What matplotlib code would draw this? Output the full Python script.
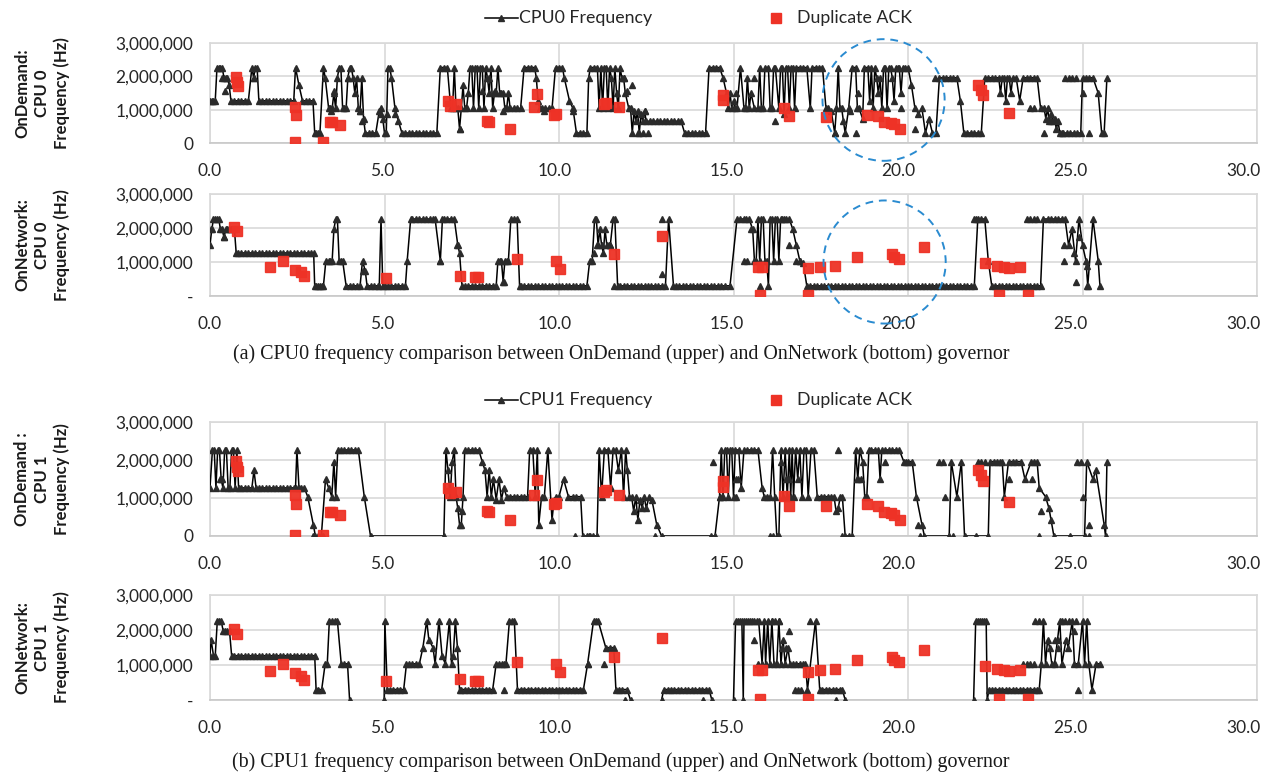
import numpy as np
import matplotlib.pyplot as plt
from matplotlib.lines import Line2D
from matplotlib.patches import Ellipse
from matplotlib.ticker import FuncFormatter
from matplotlib.transforms import ScaledTranslation

# frequency samples: (time in s, frequency in MHz); None breaks the line
cpu0_ondemand = [
    (0.00, 1267), (0.05, 1267), (0.10, 1267), (0.15, 1267), (0.20, 2265), (0.25, 2265),
    (0.30, 2265), (0.35, 2265), (0.40, 1958), (0.45, 1958), (0.50, 1958), (0.55, 1728),
    (0.60, 1267), (0.70, 1267), (0.80, 1267), (0.90, 1267), (1.00, 1267), (1.10, 1267),
    (1.20, 2265), (1.25, 1958), (1.30, 2265), (1.35, 2265), (1.40, 1267), (1.50, 1267),
    (1.60, 1267), (1.70, 1267), (1.80, 1267), (1.90, 1267), (2.00, 1267), (2.10, 1267),
    (2.20, 1267), (2.30, 1267), (2.40, 1267), (2.45, 2265), (2.55, 1728), (2.65, 1267),
    (2.75, 1267), (2.85, 1267), (2.95, 1267), (3.00, 300), (3.05, 300), (3.10, 300),
    (3.15, 300), (3.25, 2265), (3.30, 1958), (3.40, 1036), (3.45, 1036), (3.50, 1036),
    (3.55, 1497), (3.60, 1036), (3.65, 1958), (3.70, 2265), (3.75, 2265), (3.80, 1036),
    (3.85, 1036), (3.90, 1036), (3.95, 1958), (4.00, 2265), (4.05, 2265), (4.10, 1958),
    (4.15, 1497), (4.20, 1958), (4.25, 1036), (4.30, 960), (4.35, 1958), (4.40, 729),
    (4.45, 300), (4.55, 300), (4.65, 300), (4.75, 300), (4.85, 960), (4.90, 883),
    (4.95, 729), (5.00, 300), (5.05, 300), (5.10, 2265), (5.15, 2265), (5.20, 1958),
    (5.30, 1036), (5.40, 652), (5.50, 300), (5.60, 300), (5.70, 300), (5.80, 300),
    (5.90, 300), (6.00, 300), (6.10, 300), (6.20, 300), (6.30, 300), (6.40, 300),
    (6.50, 300), (6.60, 2265), (6.70, 2265), (6.80, 2265), (6.90, 1036), (6.95, 1036),
    (7.00, 2265), (7.05, 1036), (7.10, 1036), (7.15, 422), (7.20, 1036), (7.25, 1728),
    (7.30, 1036), (7.35, 1036), (7.40, 1497), (7.45, 2265), (7.50, 2265), (7.55, 1036),
    (7.60, 2265), (7.65, 2265), (7.70, 1036), (7.75, 2265), (7.80, 2265), (7.85, 1036),
    (7.90, 2265), (7.95, 1958), (8.00, 1497), (8.05, 2265), (8.10, 1036), (8.15, 1497),
    (8.20, 1497), (8.25, 2265), (8.30, 1497), (8.35, 1497), (8.40, 1497), (8.45, 1036),
    (8.50, 1036), (8.55, 1497), (8.60, 1036), (8.70, 1036), (8.80, 1036), (8.90, 1036),
    (9.00, 2265), (9.10, 2265), (9.20, 2265), (9.30, 2265), (9.35, 1958), (9.40, 1267),
    (9.45, 1036), (9.50, 1036), (9.60, 1036), (9.70, 1036), (9.80, 1036), (9.90, 2265),
    (10.00, 2265), (10.10, 2265), (10.15, 1958), (10.30, 1267), (10.40, 1036), (10.50, 300),
    (10.60, 300), (10.70, 300), (10.80, 300), (10.85, 1958), (10.90, 2265), (11.00, 2265),
    (11.10, 2265), (11.15, 1036), (11.20, 2265), (11.25, 1036), (11.30, 2265), (11.35, 2265),
    (11.40, 1036), (11.45, 2265), (11.50, 1958), (11.55, 1036), (11.60, 2265), (11.65, 1497),
    (11.70, 1036), (11.75, 2265), (11.80, 1958), (11.85, 1958), (11.90, 1497), (12.00, 1036),
    (12.05, 1036), (12.10, 300), (12.15, 960), (12.20, 652), (12.25, 960), (12.30, 300),
    (12.35, 883), (12.40, 652), (12.45, 960), (12.50, 652), (12.60, 652), (12.70, 652),
    (12.80, 652), (12.90, 652), (13.00, 652), (13.10, 652), (13.20, 652), (13.30, 652),
    (13.40, 652), (13.50, 652), (13.60, 300), (13.70, 300), (13.80, 300), (13.90, 300),
    (14.00, 300), (14.10, 300), (14.20, 300), (14.30, 2265), (14.40, 2265), (14.50, 2265),
    (14.60, 2265), (14.70, 1958), (14.80, 1497), (14.85, 1036), (14.90, 1497), (14.95, 1036),
    (15.00, 1267), (15.05, 1036), (15.10, 1036), (15.20, 2265), (15.30, 1036), (15.35, 1036),
    (15.40, 1958), (15.45, 1036), (15.50, 1497), (15.60, 1036), (15.70, 1036), (15.75, 2265),
    (15.80, 1036), (15.85, 1036), (15.90, 2265), (16.00, 2265), (16.05, 1036), (16.10, 1036),
    (16.15, 2265), (16.20, 2265), (16.30, 1036), (16.35, 2265), (16.40, 2265), (16.45, 883),
    (16.50, 2265), (16.55, 2265), (16.60, 1036), (16.65, 2265), (16.70, 2265), (16.75, 1036),
    (16.80, 2265), (16.90, 2265), (17.00, 2265), (17.10, 2265), (17.20, 1036), (17.25, 2265),
    (17.35, 2265), (17.45, 2265), (17.55, 2265), (17.65, 1036), (17.70, 1036), (17.80, 960),
    (17.90, 300), (17.95, 1036), (18.00, 2265), (18.05, 1036), (18.10, 1036), (18.15, 652),
    (18.20, 300), (18.30, 1036), (18.40, 2265), (18.50, 2265), (18.55, 1036), (18.60, 1036),
    (18.70, 729), (18.75, 2265), (18.85, 2265), (18.90, 1267), (18.95, 2265), (19.00, 1036),
    (19.05, 2265), (19.10, 1958), (19.15, 1497), (19.20, 1958), (19.25, 1036), (19.30, 2265),
    (19.35, 2265), (19.40, 1036), (19.45, 2265), (19.50, 2265), (19.55, 1958), (19.60, 1267),
    (19.65, 2265), (19.70, 2265), (19.75, 2265), (19.80, 1497), (19.85, 2265), (19.90, 2265),
    (20.00, 2265), (20.10, 1728), (20.20, 1036), (20.30, 883), (20.40, 1036), (20.50, 300),
    (20.60, 729), (20.70, 300), (20.80, 300), (20.90, 1958), (21.00, 1958), (21.10, 1958),
    (21.20, 1958), (21.30, 1958), (21.40, 1958), (21.50, 1267), (21.60, 300), (21.70, 300),
    (21.80, 300), (21.90, 300), (22.00, 300), (22.10, 300), (22.20, 1958), (22.30, 1958),
    (22.40, 1958), (22.50, 1958), (22.60, 1958), (22.65, 1497), (22.70, 1958), (22.75, 1958),
    (22.80, 1267), (22.85, 1958), (22.90, 1958), (22.95, 1497), (23.00, 1958), (23.10, 1958),
    (23.20, 1267), (23.30, 1958), (23.40, 1958), (23.50, 1958), (23.60, 1958), (23.70, 1958),
    (23.80, 1036), (23.90, 1036), (23.95, 729), (24.00, 1036), (24.05, 652), (24.10, 883),
    (24.15, 652), (24.20, 729), (24.25, 422), (24.30, 652), (24.35, 300), (24.45, 300),
    (24.55, 300), (24.65, 300), (24.75, 300), (24.85, 300), (24.95, 300), (25.00, 1958),
    (25.10, 1958), (25.20, 1958), (25.30, 1958), (25.45, 1497), (25.55, 300), (25.62, 300),
    (25.70, 1958),
]
cpu0_ondemand_extra = [
    (0.33, 1958), (0.44, 1574), (1.26, 1958), (3.46, 960), (3.54, 1574), (3.95, 1958),
    (4.30, 960), (4.36, 652), (4.89, 1036), (5.06, 883), (5.30, 883), (7.17, 422),
    (7.80, 1574), (8.00, 1958), (8.16, 1574), (8.40, 960), (9.57, 960), (10.40, 960),
    (11.85, 1958), (11.96, 1574), (12.10, 1728), (12.47, 960), (12.25, 300), (12.40, 300),
    (12.55, 300), (15.06, 1497), (15.60, 1958), (16.20, 652), (17.90, 300), (18.50, 300),
    (18.56, 1497), (18.35, 960), (19.80, 1036), (20.20, 422), (20.76, 1958), (23.50, 1036),
    (23.60, 1036), (23.90, 300), (24.10, 652), (24.40, 300), (24.50, 1958), (24.60, 1958),
    (24.70, 1958), (24.80, 1958), (25.00, 1497), (25.20, 300),
]

cpu0_onnetwork = [
    (0.00, 1497), (0.05, 1958), (0.10, 2265), (0.15, 2265), (0.20, 2265), (0.25, 2265),
    (0.30, 1958), (0.35, 1958), (0.40, 1728), (0.45, 1958), (0.50, 1958), (0.55, 1958),
    (0.60, 1958), (0.70, 1958), (0.75, 1267), (0.80, 1267), (0.90, 1267), (1.00, 1267),
    (1.10, 1267), (1.20, 1267), (1.30, 1267), (1.40, 1267), (1.50, 1267), (1.60, 1267),
    (1.70, 1267), (1.80, 1267), (1.90, 1267), (2.00, 1267), (2.10, 1267), (2.20, 1267),
    (2.30, 1267), (2.40, 1267), (2.50, 1267), (2.60, 1267), (2.70, 1267), (2.80, 1267),
    (2.90, 1267), (2.97, 1267), (3.00, 300), (3.05, 300), (3.10, 300), (3.15, 300),
    (3.20, 300), (3.25, 300), (3.32, 1036), (3.40, 1036), (3.45, 1036), (3.50, 1036),
    (3.55, 1958), (3.60, 2265), (3.65, 2265), (3.70, 1036), (3.75, 1036), (3.80, 1036),
    (3.90, 300), (4.00, 300), (4.10, 300), (4.20, 300), (4.30, 300), (4.37, 1036),
    (4.45, 729), (4.50, 300), (4.60, 300), (4.70, 300), (4.80, 300), (4.85, 300),
    (4.90, 2265), (4.95, 300), (5.00, 300), (5.10, 300), (5.20, 300), (5.30, 300),
    (5.40, 300), (5.50, 300), (5.60, 300), (5.65, 1036), (5.75, 2265), (5.80, 2265),
    (5.90, 2265), (6.00, 2265), (6.10, 2265), (6.20, 2265), (6.30, 2265), (6.40, 2265),
    (6.45, 2265), (6.60, 1036), (6.66, 2265), (6.70, 2265), (6.80, 2265), (6.90, 2265),
    (7.00, 2265), (7.10, 1497), (7.15, 1267), (7.22, 300), (7.30, 300), (7.40, 300),
    (7.50, 300), (7.60, 300), (7.70, 300), (7.80, 300), (7.90, 300), (8.00, 300),
    (8.10, 300), (8.20, 300), (8.25, 1036), (8.30, 1036), (8.35, 1036), (8.40, 422),
    (8.45, 1036), (8.50, 1036), (8.55, 1036), (8.62, 2265), (8.70, 2265), (8.80, 2265),
    (8.87, 300), (8.90, 300), (9.00, 300), (9.10, 300), (9.20, 300), (9.30, 300),
    (9.40, 300), (9.50, 300), (9.60, 300), (9.70, 300), (9.80, 300), (9.90, 300),
    (10.00, 300), (10.10, 300), (10.20, 300), (10.30, 300), (10.40, 300), (10.50, 300),
    (10.60, 300), (10.70, 300), (10.80, 300), (10.88, 1036), (10.95, 1036), (11.02, 2265),
    (11.07, 2265), (11.12, 1497), (11.17, 1958), (11.22, 1497), (11.27, 1267), (11.32, 1958),
    (11.37, 1497), (11.42, 1497), (11.47, 1497), (11.55, 2265), (11.60, 2265), (11.68, 300),
    (11.75, 300), (11.85, 300), (11.95, 300), (12.05, 300), (12.15, 300), (12.25, 300),
    (12.35, 300), (12.45, 300), (12.55, 300), (12.65, 300), (12.75, 300), (12.85, 300),
    (12.95, 300), (13.05, 300), (13.14, 2265), (13.28, 300), (13.35, 300), (13.45, 300),
    (13.55, 300), (13.65, 300), (13.75, 300), (13.85, 300), (13.95, 300), (14.05, 300),
    (14.15, 300), (14.25, 300), (14.35, 300), (14.45, 300), (14.55, 300), (14.65, 300),
    (14.75, 300), (14.90, 300), (15.10, 2265), (15.20, 2265), (15.30, 2265), (15.35, 2265),
    (15.45, 2265), (15.55, 1958), (15.60, 1036), (15.65, 1036), (15.70, 2265), (15.75, 1036),
    (15.80, 2265), (15.85, 2265), (15.90, 1036), (15.95, 1036), (16.00, 300), (16.05, 2265),
    (16.10, 2265), (16.15, 1036), (16.20, 2265), (16.25, 2265), (16.30, 1036), (16.35, 2265),
    (16.40, 2265), (16.45, 2265), (16.50, 2265), (16.60, 2265), (16.70, 1958), (16.80, 1497),
    (16.90, 1036), (17.00, 960), (17.10, 300), (17.20, 300), (17.30, 300), (17.40, 300),
    (17.50, 300), (17.60, 300), (17.70, 300), (17.80, 300), (17.90, 300), (18.00, 300),
    (18.10, 300), (18.20, 300), (18.30, 300), (18.40, 300), (18.50, 300), (18.60, 300),
    (18.70, 300), (18.80, 300), (18.90, 300), (19.00, 300), (19.10, 300), (19.20, 300),
    (19.30, 300), (19.40, 300), (19.50, 300), (19.60, 300), (19.70, 300), (19.80, 300),
    (19.90, 300), (20.00, 300), (20.10, 300), (20.20, 300), (20.30, 300), (20.40, 300),
    (20.50, 300), (20.60, 300), (20.70, 300), (20.80, 300), (20.90, 300), (21.00, 300),
    (21.10, 300), (21.20, 300), (21.30, 300), (21.40, 300), (21.50, 300), (21.60, 300),
    (21.70, 300), (21.80, 300), (21.90, 300), (22.00, 2265), (22.10, 2265), (22.20, 2265),
    (22.30, 1036), (22.40, 300), (22.50, 300), (22.60, 300), (22.70, 300), (22.80, 300),
    (22.90, 300), (23.00, 300), (23.10, 300), (23.20, 300), (23.30, 300), (23.40, 300),
    (23.50, 300), (23.60, 300), (23.70, 300), (23.80, 300), (23.88, 2265), (24.00, 2265),
    (24.10, 2265), (24.20, 2265), (24.30, 2265), (24.40, 2265), (24.50, 2265), (24.60, 1497),
    (24.70, 1958), (24.80, 1036), (24.90, 2265), (25.00, 1497), (25.10, 1036), (25.15, 300),
    (25.30, 2265), (25.45, 1036), (25.50, 300),
]
cpu0_onnetwork_extra = [
    (0.04, 1958), (0.39, 1728), (4.37, 729), (6.60, 1036), (7.07, 1497), (8.42, 422),
    (11.00, 1267), (11.10, 1497), (11.47, 1497), (11.58, 300), (12.94, 2265), (12.94, 652),
    (15.30, 1036), (15.40, 1036), (15.76, 300), (15.50, 1958), (16.60, 1497), (16.80, 1036),
    (16.90, 1036), (21.88, 2265), (21.95, 2265), (23.40, 2265), (23.50, 2265), (23.60, 2265),
    (23.70, 2265), (24.47, 1497), (24.76, 1267), (24.47, 1036), (24.82, 422), (25.12, 300),
    (25.12, 883), (24.90, 1728),
]

cpu1_ondemand = [
    (0.00, 1267), (0.07, 2265), (0.12, 2265), (0.17, 1267), (0.22, 2265), (0.27, 2265),
    (0.32, 1497), (0.37, 1267), (0.42, 2265), (0.47, 2265), (0.52, 1267), (0.57, 1267),
    (0.62, 2265), (0.67, 2265), (0.72, 1267), (0.77, 2265), (0.82, 1267), (0.90, 1267),
    (1.00, 1267), (1.10, 1267), (1.20, 1267), (1.26, 1728), (1.32, 1267), (1.40, 1267),
    (1.50, 1267), (1.60, 1267), (1.70, 1267), (1.80, 1267), (1.90, 1267), (2.00, 1267),
    (2.10, 1267), (2.20, 1267), (2.30, 1267), (2.40, 1267), (2.45, 1267), (2.49, 2265),
    (2.55, 1267), (2.62, 1267), (2.70, 1267), (2.80, 1036), (2.96, 300), (3.02, 0),
    (3.10, 0), (3.19, 0), (3.31, 1497), (3.40, 1267), (3.49, 1036), (3.55, 1958),
    (3.60, 1036), (3.66, 2265), (3.75, 2265), (3.85, 2265), (3.95, 2265), (4.05, 2265),
    (4.15, 2265), (4.25, 2265), (4.42, 1036), (4.60, 0), (6.70, 0), (6.76, 2265),
    (6.82, 1728), (6.88, 1036), (6.94, 1958), (7.00, 2265), (7.05, 1036), (7.10, 729),
    (7.15, 300), (7.20, 300), (7.25, 1036), (7.30, 2265), (7.40, 2265), (7.50, 2265),
    (7.60, 2265), (7.70, 2265), (7.80, 1958), (7.88, 1728), (7.94, 1036), (8.00, 1728),
    (8.06, 1036), (8.12, 1497), (8.20, 960), (8.28, 1497), (8.35, 960), (8.42, 1267),
    (8.50, 1036), (8.60, 1036), (8.70, 1036), (8.80, 1036), (8.90, 1036), (9.00, 1036),
    (9.10, 1036), (9.16, 2265), (9.25, 2265), (9.32, 1036), (9.38, 2265), (9.42, 300),
    (9.50, 1036), (9.58, 1036), (9.68, 2265), (9.80, 422), (9.86, 960), (9.92, 1036),
    (10.00, 1036), (10.13, 1497), (10.27, 1036), (10.40, 1036), (10.50, 1036), (10.62, 1036),
    (10.68, 0), (10.80, 0), (10.90, 0), (11.09, 0), (11.15, 2265), (11.22, 1036),
    (11.30, 2265), (11.40, 2265), (11.48, 1267), (11.55, 2265), (11.62, 2265), (11.70, 1728),
    (11.79, 2265), (11.85, 1036), (11.91, 2265), (11.96, 1728), (12.02, 1036), (12.08, 1036),
    (12.14, 652), (12.20, 1036), (12.26, 422), (12.32, 960), (12.38, 729), (12.44, 1036),
    (12.50, 729), (12.58, 1036), (12.66, 960), (12.80, 300), (12.94, 0), (14.35, 0),
    (14.47, 0), (14.60, 1036), (14.65, 2265), (14.70, 1036), (14.75, 2265), (14.80, 2265),
    (14.85, 1036), (14.90, 2265), (14.95, 2265), (15.00, 1036), (15.05, 2265), (15.15, 2265),
    (15.22, 1267), (15.30, 2265), (15.40, 2265), (15.50, 2265), (15.60, 2265), (15.70, 2265),
    (15.82, 1267), (15.88, 1036), (15.95, 1036), (16.06, 1036), (16.12, 2265), (16.18, 1036),
    (16.24, 0), (16.30, 0), (16.36, 2265), (16.42, 1036), (16.48, 2265), (16.54, 1036),
    (16.60, 2265), (16.64, 1036), (16.68, 2265), (16.72, 1036), (16.78, 2265), (16.84, 1497),
    (16.90, 2265), (16.96, 1036), (17.02, 2265), (17.08, 2265), (17.14, 1036), (17.22, 2265),
    (17.30, 2265), (17.40, 1036), (17.50, 1036), (17.60, 1036), (17.70, 1036), (17.80, 1036),
    (17.88, 1036), (17.94, 652), (18.00, 729), (18.06, 1036), (18.12, 1036), (18.20, 0),
    (18.30, 0), (18.40, 0), (18.50, 2265), (18.56, 1497), (18.62, 2265), (18.70, 1958),
    (18.76, 1036), (18.82, 1036), (18.88, 2265), (18.95, 2265), (19.05, 2265), (19.15, 2265),
    (19.20, 1497), (19.25, 2265), (19.35, 2265), (19.45, 2265), (19.55, 2265), (19.65, 2265),
    (19.75, 2265), (19.88, 1958), (20.00, 1958), (20.12, 1958), (20.24, 1036), (20.40, 300),
    (20.47, 0), (21.18, 0), (21.24, 1958), (21.40, 1036), (21.53, 1958), (21.62, 0),
    (22.30, 0), (22.35, 1958), (22.45, 1958), (22.55, 1958), (22.65, 1958), (22.70, 1958),
    (22.76, 1036), (22.88, 1958), (23.00, 1958), (23.10, 1958), (23.24, 1958), (23.35, 1497),
    (23.53, 1958), (23.62, 1958), (23.70, 1958), (23.76, 1267), (23.94, 1036), (24.04, 729),
    (24.10, 422), (24.18, 0), (25.06, 0), (25.12, 1958), (25.30, 1497), (25.38, 1728),
    (25.62, 300), (25.66, 0), (25.70, 1958),
]
cpu1_ondemand_extra = [
    (0.30, 1497), (0.35, 1497), (2.96, 0), (3.25, 0), (7.23, 652), (10.45, 0),
    (10.85, 0), (10.97, 0), (12.76, 0), (14.40, 1958), (14.60, 1036), (15.06, 1497),
    (15.12, 1497), (15.06, 1036), (16.06, 0), (16.12, 0), (16.36, 1958), (16.50, 1497),
    (16.60, 1497), (16.55, 1036), (18.10, 0), (18.00, 2265), (18.55, 1497), (18.65, 1497),
    (19.35, 1958), (19.95, 1958), (20.30, 300), (20.35, 0), (20.88, 1958), (21.00, 1958),
    (21.05, 1036), (21.30, 0), (21.94, 0), (22.00, 1958), (22.10, 1958), (22.20, 1958),
    (22.90, 1497), (23.55, 1497), (23.76, 0), (23.80, 652), (24.65, 0), (24.85, 1958),
    (24.95, 1958), (25.00, 1036), (25.18, 300), (25.18, 0),
]

cpu1_onnetwork = [
    (0.00, 1267), (0.03, 1728), (0.10, 1267), (0.15, 1267), (0.21, 2265), (0.26, 2265),
    (0.32, 2265), (0.38, 1958), (0.44, 1958), (0.50, 1958), (0.56, 1958), (0.62, 1267),
    (0.70, 1267), (0.80, 1267), (0.90, 1267), (1.00, 1267), (1.10, 1267), (1.20, 1267),
    (1.30, 1267), (1.40, 1267), (1.50, 1267), (1.60, 1267), (1.70, 1267), (1.80, 1267),
    (1.90, 1267), (2.00, 1267), (2.10, 1267), (2.20, 1267), (2.30, 1267), (2.40, 1267),
    (2.50, 1267), (2.60, 1267), (2.70, 1267), (2.80, 1267), (2.90, 1267), (3.00, 1267),
    (3.04, 300), (3.10, 300), (3.20, 300), (3.30, 1036), (3.36, 1036), (3.42, 2265),
    (3.50, 2265), (3.58, 2265), (3.65, 2265), (3.76, 1036), (3.85, 1036), (3.94, 1036),
    (4.00, 0), (4.50, None), (4.99, 0), (5.01, 2265), (5.08, 300), (5.15, 300),
    (5.25, 300), (5.35, 300), (5.45, 300), (5.55, 300), (5.63, 1036), (5.70, 1036),
    (5.80, 1036), (5.90, 1036), (6.00, 1036), (6.10, 1497), (6.21, 2265), (6.27, 1728),
    (6.39, 1497), (6.45, 1036), (6.56, 2265), (6.65, 1267), (6.74, 1036), (6.86, 2265),
    (6.92, 1036), (6.97, 1267), (7.03, 2265), (7.09, 1497), (7.15, 300), (7.20, 300),
    (7.30, 300), (7.40, 300), (7.50, 300), (7.60, 300), (7.70, 300), (7.80, 300),
    (7.90, 300), (8.00, 300), (8.10, 300), (8.20, 1036), (8.28, 1036), (8.36, 1036),
    (8.42, 1036), (8.48, 1036), (8.58, 2265), (8.66, 2265), (8.72, 2265), (8.81, 300),
    (8.90, 300), (9.00, 300), (9.10, 300), (9.20, 300), (9.30, 300), (9.40, 300),
    (9.50, 300), (9.60, 300), (9.70, 300), (9.80, 300), (9.90, 300), (10.00, 300),
    (10.10, 300), (10.20, 300), (10.30, 300), (10.40, 300), (10.50, 300), (10.60, 300),
    (10.70, 300), (10.82, 1036), (10.99, 2265), (11.05, 2265), (11.12, 2265), (11.34, 1497),
    (11.45, 1497), (11.57, 1497), (11.63, 300), (11.72, 300), (11.80, 300), (11.95, 300),
    (12.05, 0), (12.50, None), (12.94, 0), (13.00, 300), (13.12, 300), (13.20, 300),
    (13.30, 300), (13.40, 300), (13.50, 300), (13.60, 300), (13.70, 300), (13.80, 300),
    (13.90, 300), (14.00, 300), (14.10, 300), (14.20, 300), (14.30, 300), (14.38, 0),
    (14.70, None), (15.00, 0), (15.06, 2265), (15.12, 2265), (15.18, 2265), (15.24, 2265),
    (15.28, 0), (15.30, 2265), (15.36, 2265), (15.42, 2265), (15.48, 2265), (15.54, 2265),
    (15.60, 2265), (15.66, 2265), (15.72, 2265), (15.82, 1036), (15.88, 2265), (15.92, 1036),
    (15.98, 2265), (16.04, 1036), (16.10, 2265), (16.16, 1036), (16.24, 1036), (16.30, 2265),
    (16.36, 1036), (16.42, 1728), (16.48, 1036), (16.56, 1497), (16.62, 1036), (16.70, 1036),
    (16.80, 1036), (16.90, 1036), (17.00, 1036), (17.06, 1036), (17.12, 300), (17.35, 2265),
    (17.47, 300), (17.55, 300), (17.65, 300), (17.75, 300), (17.85, 300), (17.95, 300),
    (18.05, 300), (18.12, 300), (18.20, 0), (20.00, None), (21.88, 0), (21.94, 2265),
    (22.00, 2265), (22.06, 2265), (22.12, 2265), (22.18, 2265), (22.24, 2265), (22.27, 0),
    (22.32, 300), (22.40, 300), (22.50, 300), (22.60, 300), (22.70, 300), (22.80, 300),
    (22.90, 300), (23.00, 300), (23.10, 300), (23.20, 300), (23.30, 300), (23.40, 300),
    (23.50, 300), (23.60, 300), (23.70, 300), (23.76, 300), (23.82, 1036), (23.88, 2265),
    (23.94, 1036), (24.00, 1728), (24.06, 1497), (24.12, 1036), (24.20, 1036), (24.35, 2265),
    (24.41, 1036), (24.53, 1728), (24.59, 1497), (24.71, 2265), (24.77, 1036), (24.88, 1036),
    (25.00, 2265), (25.06, 1036), (25.12, 2265), (25.18, 1036), (25.27, 300), (25.39, 1036),
    (25.50, 1036),
]
cpu1_onnetwork_extra = [
    (8.42, 300), (10.82, 1036), (11.30, 1036), (11.90, 0), (14.12, 0), (15.59, 1728),
    (15.70, 1036), (16.10, 2265), (16.20, 2265), (16.30, 2265), (16.60, 1958), (16.40, 1497),
    (16.50, 1497), (16.76, 300), (16.85, 300), (16.94, 300), (17.18, 2265), (17.94, 0),
    (23.30, 1036), (23.40, 1036), (23.50, 1036), (23.60, 1036), (23.65, 2265), (23.76, 2265),
    (24.20, 1728), (24.30, 1728), (24.30, 1497), (24.40, 2265), (24.50, 2265), (24.60, 2265),
    (24.80, 2265), (24.76, 1958), (24.88, 300),
]

# duplicate ACK events (time in s, MHz)
ondemand_dupack = [
    (0.74, 1970), (0.77, 1820), (0.80, 1720), (2.43, 1070), (2.45, 850), (2.43, 20),
    (3.25, 20), (3.43, 640), (3.50, 620), (3.72, 540), (6.82, 1260), (6.88, 1120),
    (7.05, 1160), (7.93, 660), (7.98, 640), (8.60, 420), (9.27, 1070), (9.37, 1480),
    (9.86, 850), (9.92, 870), (11.30, 1160), (11.35, 1200), (11.73, 1090), (14.70, 1450),
    (14.70, 1300), (16.44, 1050), (16.60, 800), (17.65, 780), (18.82, 830), (19.15, 800),
    (19.30, 630), (19.50, 600), (19.60, 560), (19.76, 420), (22.00, 1730), (22.10, 1600),
    (22.15, 1450), (22.90, 900),
]
onnetwork_dupack = [
    (0.68, 2020), (0.77, 1900), (1.73, 840), (2.09, 1040), (2.44, 760), (2.61, 700),
    (2.70, 580), (5.05, 540), (7.16, 600), (7.60, 550), (7.68, 550), (8.80, 1090),
    (9.90, 1040), (10.03, 790), (11.58, 1240), (12.94, 1760), (15.70, 850), (15.82, 850),
    (15.76, 30), (17.14, 810), (17.14, 30), (17.49, 860), (17.92, 880), (18.55, 1150),
    (19.53, 1230), (19.60, 1150), (19.73, 1080), (20.47, 1430), (22.20, 980), (22.55, 880),
    (22.76, 850), (22.88, 830), (22.60, 30), (23.20, 850), (23.45, 30),
]

ylabels = ["OnDemand:\nCPU 0\nFrequency (Hz)", "OnNetwork:\nCPU 0\nFrequency (Hz)",
           "OnDemand :\nCPU 1\nFrequency (Hz)", "OnNetwork:\nCPU 1\nFrequency (Hz)"]
captions = ["(a) CPU0 frequency comparison between OnDemand (upper) and OnNetwork (bottom) governor",
            "(b) CPU1 frequency comparison between OnDemand (upper) and OnNetwork (bottom) governor"]
legend_names = ["CPU0 Frequency", "CPU1 Frequency"]


def split(points):
    t = np.array([p[0] for p in points], dtype=float)
    f = np.array([np.nan if p[1] is None else p[1] for p in points], dtype=float) * 1000
    return t, f


W, H = 1265, 775
fig = plt.figure(figsize=(W / 100, H / 100), dpi=100)
SANS = ['Lato', 'DejaVu Sans']
SERIF = ['Liberation Serif', 'DejaVu Serif']
GRID = '#d9d9d9'
RED = '#ee3226'
MK = '#2b2b2b'


def px_axes(top, bottom, left=210, right=1257):
    return fig.add_axes([left / W, 1 - bottom / H, (right - left) / W, (bottom - top) / H])


panels = [
    (43, 143, cpu0_ondemand, cpu0_ondemand_extra, ondemand_dupack, '0', (19.3, 1.29e6, 3.5, 3.65e6)),
    (194, 296, cpu0_onnetwork, cpu0_onnetwork_extra, onnetwork_dupack, '-', (19.33, 1.0e6, 3.5, 3.62e6)),
    (422, 536, cpu1_ondemand, cpu1_ondemand_extra, ondemand_dupack, '0', None),
    (595, 700, cpu1_onnetwork, cpu1_onnetwork_extra, onnetwork_dupack, '-', None),
]

for i, (top, bottom, line, extra, dup, zero, circle) in enumerate(panels):
    ax = px_axes(top, bottom)
    t, f = split(line)
    ax.plot(t, f, color='black', lw=1.1, marker='^', ms=4.4, mfc=MK, mec=MK, zorder=3)
    et, ef = split(extra)
    ax.plot(et, ef, ls='none', marker='^', ms=4.4, mfc=MK, mec=MK, zorder=3)
    dt, df = split(dup)
    ax.plot(dt, df, ls='none', marker='s', ms=7.5, mfc=RED, mec=RED, alpha=0.95, zorder=4)

    ax.set_xlim(0, 30)
    ax.set_ylim(0, 3e6)
    ax.set_xticks(np.arange(0, 31, 5))
    ax.xaxis.set_major_formatter(FuncFormatter(lambda v, p: f"{v:.1f}"))
    ax.set_yticks([0, 1e6, 2e6, 3e6])
    ax.yaxis.set_major_formatter(FuncFormatter(
        lambda v, p, z=zero: z if v == 0 else f"{int(v):,}"))
    ax.grid(True, color=GRID, lw=1.2)
    ax.set_axisbelow(True)
    for s in ax.spines.values():
        s.set_color(GRID)
        s.set_linewidth(1.2)
    ax.spines['bottom'].set_color('#c8c8c8')
    ax.tick_params(length=0, labelsize=12.5, colors='#262626')
    ax.tick_params(axis='x', pad=14.5)
    ax.tick_params(axis='y', pad=12)
    for lab in ax.get_xticklabels() + ax.get_yticklabels():
        lab.set_family(SANS)
    # the category labels sit slightly left of their gridlines, as in the source
    for tick, v in zip(ax.xaxis.get_major_ticks(), ax.get_xticks()):
        shift = ScaledTranslation(-v / 30 * 14 / 100, 0, fig.dpi_scale_trans)
        tick.label1.set_transform(tick.label1.get_transform() + shift)

    if circle is not None:
        cx, cy, cw, ch = circle
        ax.add_patch(Ellipse((cx, cy), cw, ch, fill=False, ec='#2a8bd0', lw=1.4,
                             ls=(0, (4, 3)), clip_on=False, zorder=5))

    fig.text(42 / W, 1 - (top + bottom) / 2 / H, ylabels[i], rotation=90, ha='center',
             va='center', multialignment='center', family=SANS, weight='bold',
             fontsize=12, linespacing=1.25, color='#1a1a1a')

# legends drawn at the top of each group
for k, ly in enumerate([18, 400]):
    yf = 1 - ly / H
    fig.add_artist(Line2D([485 / W, 518 / W], [yf, yf], color='black', lw=1.1))
    fig.add_artist(Line2D([501 / W], [yf], marker='^', ms=4.4, color=MK, ls='none'))
    fig.text(519 / W, yf, legend_names[k], ha='left', va='center', family=SANS,
             fontsize=12.8, color='#262626')
    fig.add_artist(Line2D([776 / W], [yf], marker='s', ms=7.5, color=RED, ls='none'))
    fig.text(797 / W, yf, 'Duplicate ACK', ha='left', va='center', family=SANS,
             fontsize=12.8, color='#262626')

for cap, cy in zip(captions, [354, 762]):
    fig.text(621 / W, 1 - cy / H, cap, ha='center', va='center', family=SERIF,
             fontsize=14.4, color='#1a1a1a')

fig.savefig('out.png', dpi=100)
